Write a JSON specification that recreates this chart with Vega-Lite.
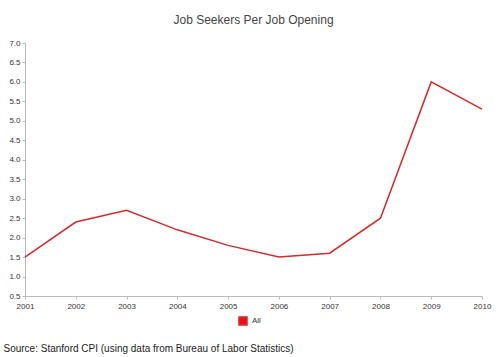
{
  "$schema": "https://vega.github.io/schema/vega-lite/v6.json",
  "autosize": {"type": "none"},
  "width": 457,
  "height": 253,
  "padding": {"left": 25, "top": 43, "right": 18, "bottom": 61},
  "background": "white",
  "title": {"text": "Job Seekers Per Job Opening", "font": "Liberation Sans", "fontSize": 12, "fontWeight": "normal", "color": "#444444", "offset": 12, "anchor": "middle"},
  "config": {
    "view": {"stroke": null},
    "font": "Liberation Sans",
    "axis": {"labelFont": "Liberation Sans", "labelFontSize": 8, "labelColor": "#333333", "domainColor": "#bbbbbb", "tickColor": "#bbbbbb", "tickSize": 3, "grid": false}
  },
  "data": {"values": [
    {"year": 2001, "value": 1.5, "series": "All"},
    {"year": 2002, "value": 2.4, "series": "All"},
    {"year": 2003, "value": 2.7, "series": "All"},
    {"year": 2004, "value": 2.2, "series": "All"},
    {"year": 2005, "value": 1.8, "series": "All"},
    {"year": 2006, "value": 1.5, "series": "All"},
    {"year": 2007, "value": 1.6, "series": "All"},
    {"year": 2008, "value": 2.5, "series": "All"},
    {"year": 2009, "value": 6.0, "series": "All"},
    {"year": 2010, "value": 5.3, "series": "All"}
  ]},
  "mark": {"type": "line", "strokeWidth": 1.5},
  "encoding": {
    "x": {"field": "year", "type": "quantitative", "scale": {"domain": [2001, 2010], "nice": false, "zero": false},
      "axis": {"values": [2001,2002,2003,2004,2005,2006,2007,2008,2009,2010], "format": "d", "labelPadding": 3, "labelFlush": false,
        "title": "Source: Stanford CPI (using data from Bureau of Labor Statistics)", "titleFont": "Liberation Sans", "titleFontSize": 10, "titleFontWeight": "normal", "titleColor": "#222222", "titleAnchor": "start", "titleAlign": "left", "titleBaseline": "middle", "titleX": -22, "titleY": 52}},
    "y": {"field": "value", "type": "quantitative", "scale": {"domain": [0.5, 7.0], "nice": false, "zero": false},
      "axis": {"values": [0.5,1.0,1.5,2.0,2.5,3.0,3.5,4.0,4.5,5.0,5.5,6.0,6.5,7.0], "format": ".1f", "title": null, "labelPadding": 2}},
    "color": {"field": "series", "type": "nominal", "scale": {"range": ["#d42a2a"]},
      "legend": {"orient": "none", "legendX": 213, "legendY": 273, "title": null, "direction": "horizontal", "symbolType": "square", "symbolSize": 64, "labelFontSize": 8, "labelColor": "#333333",
        "encode": {"symbols": {"update": {"fill": {"value": "#ee1111"}, "stroke": {"value": "#ee1111"}}}}}}
  }
}
